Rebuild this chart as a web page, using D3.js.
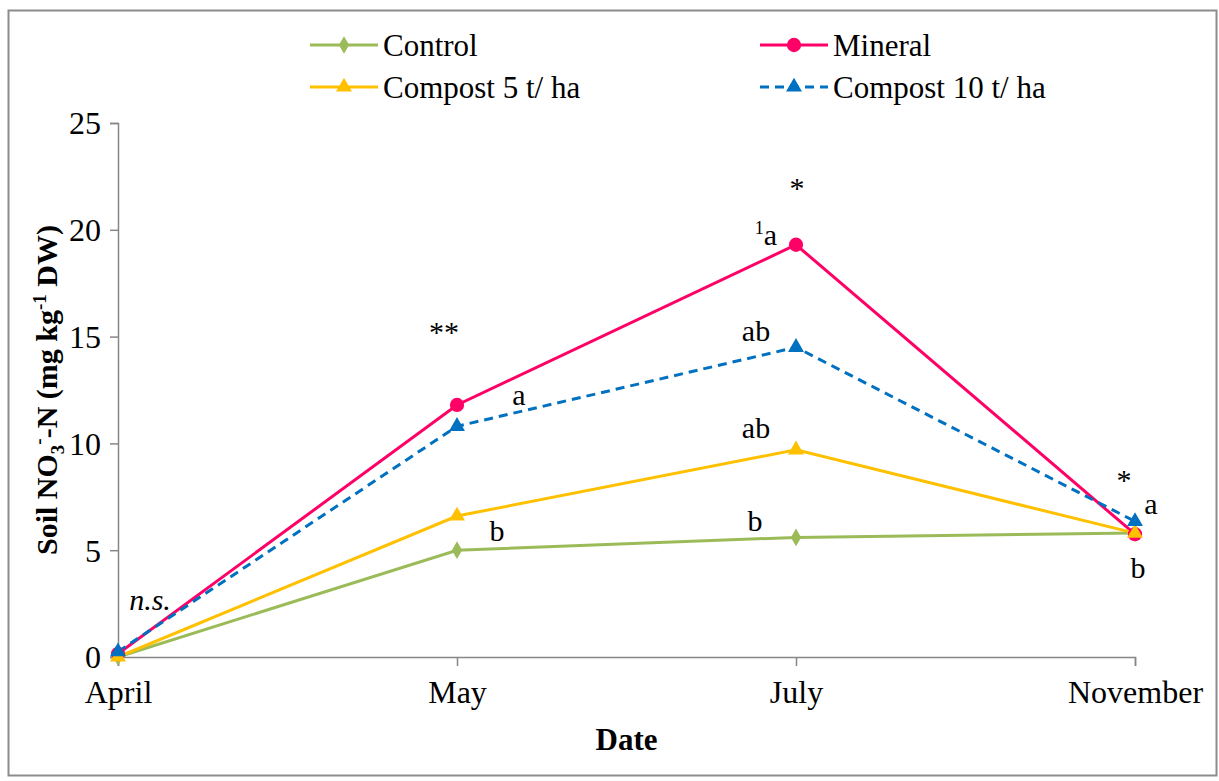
<!DOCTYPE html>
<html>
<head>
<meta charset="utf-8">
<script src="https://cdn.jsdelivr.net/npm/d3@7"></script>
<style>
  body { margin: 0; background: #fff; }
  svg text { font-family: "Liberation Serif", "Times New Roman", Times, serif; fill: #000; }
</style>
</head>
<body>
<div id="chart"></div>
<script>
const dates = ['April', 'May', 'July', 'November'];
const seriesNames = ['Control', 'Mineral', 'Compost 5 t/ ha', 'Compost 10 t/ ha'];
const controlVals = [0.0, 5.0, 5.6, 5.8];
const mineralVals = [0.15, 11.8, 19.3, 5.75];
const compost5Vals = [0.0, 6.6, 9.7, 5.8];
const compost10Vals = [0.25, 10.8, 14.5, 6.35];
const yTicks = [0, 5, 10, 15, 20, 25];

const svgWidth = 1219;
const svgHeight = 781;
const margin = { top: 123, right: 84, bottom: 124, left: 118 };
const width = svgWidth - margin.left - margin.right;
const height = svgHeight - margin.top - margin.bottom;
const serif = '"Liberation Serif", "Times New Roman", Times, serif';

const series = [
  { name: seriesNames[0], values: controlVals, color: '#9BBB59', marker: 'diamond', dash: null },
  { name: seriesNames[1], values: mineralVals, color: '#FF0066', marker: 'circle', dash: null },
  { name: seriesNames[2], values: compost5Vals, color: '#FFC000', marker: 'triangle', dash: null },
  { name: seriesNames[3], values: compost10Vals, color: '#0070C0', marker: 'triangle', dash: '9,6' }
];

const svg = d3.select('#chart')
  .append('svg')
  .attr('width', svgWidth)
  .attr('height', svgHeight)
  .attr('font-family', serif);

// outer frame
svg.append('rect')
  .attr('x', 8.5).attr('y', 10.5)
  .attr('width', 1208).attr('height', 765)
  .attr('fill', 'none')
  .attr('stroke', '#8c8c8c')
  .attr('stroke-width', 2);

const g = svg.append('g')
  .attr('transform', 'translate(' + margin.left + ',' + margin.top + ')');

const x = d3.scalePoint()
  .domain(dates)
  .range([0, width]);

const y = d3.scaleLinear()
  .domain([0, 25])
  .range([height, 0]);

// axes
const xAxis = g.append('g')
  .attr('transform', 'translate(0,' + height + ')')
  .call(d3.axisBottom(x).tickSize(9).tickPadding(14));
const yAxis = g.append('g')
  .call(d3.axisLeft(y).tickValues(yTicks).tickSize(8).tickPadding(9));

[xAxis, yAxis].forEach(a => {
  a.attr('font-family', serif).attr('font-size', 32);
  a.select('.domain').attr('stroke', '#868686').attr('stroke-width', 1.5);
  a.selectAll('.tick line').attr('stroke', '#868686').attr('stroke-width', 1.5);
  a.selectAll('.tick text').attr('fill', '#000');
});
yAxis.selectAll('.tick text').attr('dy', '0.34em');
xAxis.selectAll('.tick text').attr('dy', '0.72em');

const symbolFor = m => m === 'diamond' ? d3.symbolDiamond : m === 'circle' ? d3.symbolCircle : d3.symbolTriangle;
const sizeFor = m => m === 'diamond' ? 90 : m === 'circle' ? 160 : 110;

const line = d3.line()
  .x((d, i) => x(dates[i]))
  .y(d => y(d));

series.forEach(s => {
  g.append('path')
    .datum(s.values)
    .attr('d', line)
    .attr('fill', 'none')
    .attr('stroke', s.color)
    .attr('stroke-width', 3)
    .attr('stroke-dasharray', s.dash);
});

series.forEach(s => {
  g.selectAll(null)
    .data(s.values)
    .enter().append('path')
    .attr('transform', (d, i) => 'translate(' + x(dates[i]) + ',' + y(d) + ')')
    .attr('d', d3.symbol().type(symbolFor(s.marker)).size(sizeFor(s.marker)))
    .attr('fill', s.color);
});

// significance annotations (anchored to a date and a value)
const notes = [
  { date: 'April', v: 2.2, dx: 32, t: 'n.s.', italic: true },
  { date: 'May', v: 14.75, dx: -13, t: '**' },
  { date: 'May', v: 11.8, dx: 62, t: 'a' },
  { date: 'May', v: 5.43, dx: 40, t: 'b' },
  { date: 'July', v: 21.5, dx: 1, t: '*' },
  { date: 'July', v: 19.3, dx: -30, t: 'a', sup: '1' },
  { date: 'July', v: 14.8, dx: -40, t: 'ab' },
  { date: 'July', v: 10.25, dx: -40, t: 'ab' },
  { date: 'July', v: 5.9, dx: -41, t: 'b' },
  { date: 'November', v: 7.8, dx: -11, t: '*' },
  { date: 'November', v: 6.7, dx: 16, t: 'a' },
  { date: 'November', v: 3.7, dx: 3, t: 'b' }
];

notes.forEach(n => {
  const t = g.append('text')
    .attr('x', x(n.date) + n.dx)
    .attr('y', y(n.v))
    .attr('text-anchor', 'middle')
    .attr('font-size', 30)
    .attr('font-style', n.italic ? 'italic' : 'normal');
  if (n.sup) {
    t.append('tspan').text(n.sup).attr('font-size', 18).attr('dy', -11);
    t.append('tspan').text(n.t).attr('dy', 11);
  } else {
    t.text(n.t);
  }
});

// axis titles
g.append('text')
  .attr('x', width / 2)
  .attr('y', height + 93)
  .attr('text-anchor', 'middle')
  .attr('font-size', 31)
  .attr('font-weight', 'bold')
  .text('Date');

const yTitle = g.append('text')
  .attr('transform', 'rotate(-90)')
  .attr('x', -height / 2)
  .attr('y', -61)
  .attr('text-anchor', 'middle')
  .attr('font-size', 30)
  .attr('font-weight', 'bold');
yTitle.append('tspan').text('Soil NO');
yTitle.append('tspan').text('3').attr('font-size', 19).attr('dy', 7);
yTitle.append('tspan').text('-').attr('font-size', 19).attr('dy', -19);
yTitle.append('tspan').text('-N (mg kg').attr('dy', 12);
yTitle.append('tspan').text('-1').attr('font-size', 19).attr('dy', -11);
yTitle.append('tspan').text(' DW)').attr('dy', 11);

// legend
const legendPos = [
  { x: 310, y: 45 }, { x: 760, y: 45 },
  { x: 310, y: 87 }, { x: 760, y: 87 }
];
series.forEach((s, i) => {
  const p = legendPos[i];
  const lg = svg.append('g').attr('transform', 'translate(' + p.x + ',' + p.y + ')');
  lg.append('line')
    .attr('x1', 0).attr('x2', 68)
    .attr('stroke', s.color)
    .attr('stroke-width', 3)
    .attr('stroke-dasharray', s.dash);
  lg.append('path')
    .attr('transform', 'translate(34,0)')
    .attr('d', d3.symbol().type(symbolFor(s.marker)).size(sizeFor(s.marker)))
    .attr('fill', s.color);
  lg.append('text')
    .attr('x', 73)
    .attr('y', 11)
    .attr('font-size', 31)
    .text(s.name);
});
</script>
</body>
</html>
